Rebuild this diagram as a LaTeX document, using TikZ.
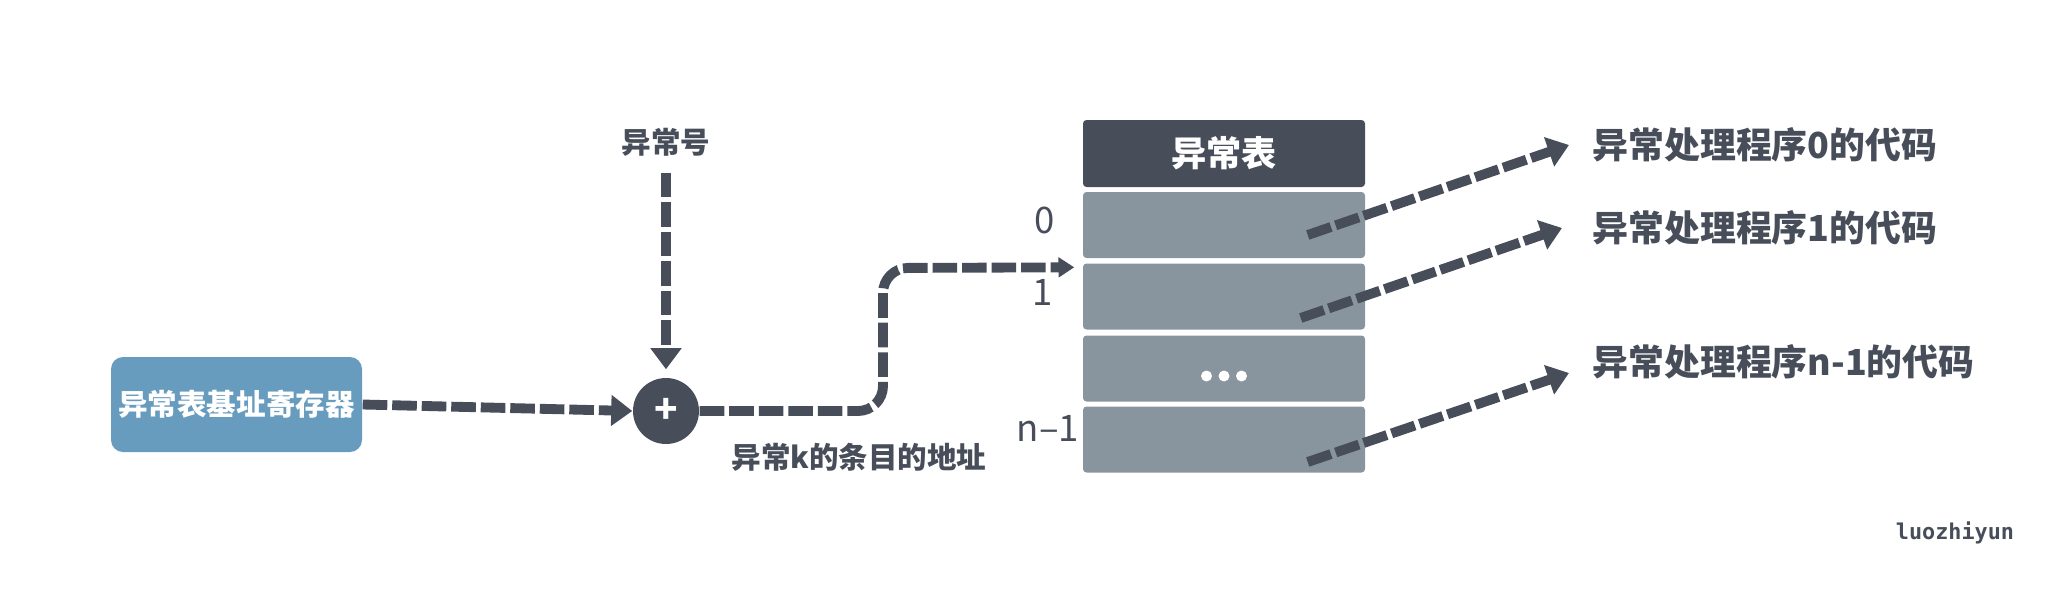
\documentclass[tikz,border=0pt]{standalone}
\usepackage{fontspec}
\setmainfont{Noto Sans CJK SC}
\newfontfamily\markfont{DejaVu Sans Mono}
\definecolor{exdark}{RGB}{71,78,90}
\definecolor{exgray}{RGB}{137,149,158}
\definecolor{exblue}{RGB}{103,156,190}
\usetikzlibrary{arrows.meta,positioning,calc}

\begin{document}
\begin{tikzpicture}[
  flow/.style={line width=2.8pt, exdark, dash pattern=on 7pt off 1.4pt, -{Triangle[length=6pt,width=8.5pt]}},
  smallflow/.style={flow, -{Triangle[length=4.5pt,width=5.5pt]}},
  row/.style={fill=exgray, rounded corners=1pt, minimum width=2.82cm, minimum height=0.66cm, inner sep=0pt},
  lbl/.style={font=\fontsize{8.4}{10}\selectfont\bfseries, text=exdark, inner sep=0pt},
  code/.style={font=\fontsize{10.2}{12}\selectfont\bfseries, text=exdark, inner sep=0pt, anchor=west},
  idx/.style={font=\fontsize{10.4}{12}\selectfont, text=exdark, inner sep=0pt}
]
  \useasboundingbox (0,0) rectangle (20.70,5.91);

  %% base register, exception number and adder
  \node[fill=exblue, rounded corners=0.12cm, minimum width=2.51cm, minimum height=0.95cm, inner sep=0pt,
        font=\fontsize{8.4}{10}\selectfont\bfseries, text=white] (base) at (2.365,1.865) {异常表基址寄存器};
  \node[circle, fill=exdark, minimum size=0.66cm, inner sep=0pt, text=white,
        font=\fontsize{11}{11}\selectfont\bfseries] (plus) at (6.66,1.80) {+};
  \node[lbl] (num) at (6.66,4.49) {异常号};
  \node[lbl] (addr) at (8.59,1.34) {异常k的条目的地址};
  \draw[flow] (base.east) -- (plus.west);
  \draw[flow, shorten <=0.16cm, shorten >=0.08cm] (num.south) -- (plus.north);

  %% exception table
  \node[fill=exdark, rounded corners=1pt, minimum width=2.82cm, minimum height=0.67cm, inner sep=0pt,
        font=\fontsize{10}{12}\selectfont\bfseries, text=white] (head) at (12.24,4.375) {异常表};
  \node[row] (r0) at (12.24,3.66) {};
  \node[row] (r1) at (12.24,2.945) {};
  \node[row] (r2) at (12.24,2.225) {};
  \node[row] (r3) at (12.24,1.515) {};
  \fill[white] ($(r2.center)+(-0.175,-0.075)$) circle (0.055);
  \fill[white] ($(r2.center)+(0,-0.075)$) circle (0.055);
  \fill[white] ($(r2.center)+(0.175,-0.075)$) circle (0.055);
  \node[idx] (i0) at (10.45,3.71) {0};
  \node[idx] (i1) at (10.43,2.99) {1};
  \node[idx] (i3) at (10.48,1.63) {n–1};

  \coordinate (bend) at (8.83,3.23);
  \draw[smallflow, rounded corners=0.25cm, shorten >=0.08cm] (plus.east) -| (bend) -- ($(r1.north west)+(0,-0.045)$);

  %% handler code
  \node[code] (h0) at (15.92,4.46) {异常处理程序0的代码};
  \node[code] (h1) at (15.92,3.63) {异常处理程序1的代码};
  \node[code] (h3) at (15.92,2.29) {异常处理程序n-1的代码};
  \coordinate (s0) at ($(r0.east)+(-0.58,-0.10)$);
  \coordinate (s1) at ($(r1.east)+(-0.65,-0.215)$);
  \coordinate (s3) at ($(r3.east)+(-0.58,-0.225)$);
  \draw[flow] (s0) -- ($(h0.west)+(-0.23,0)$);
  \draw[flow] (s1) -- ($(h1.west)+(-0.30,0)$);
  \draw[flow] (s3) -- ($(h3.west)+(-0.23,-0.11)$);

  \node[font=\markfont\bfseries\fontsize{6.2}{8}\selectfont, text=exdark] (mark) at (19.55,0.58) {luozhiyun};
\end{tikzpicture}
\end{document}
